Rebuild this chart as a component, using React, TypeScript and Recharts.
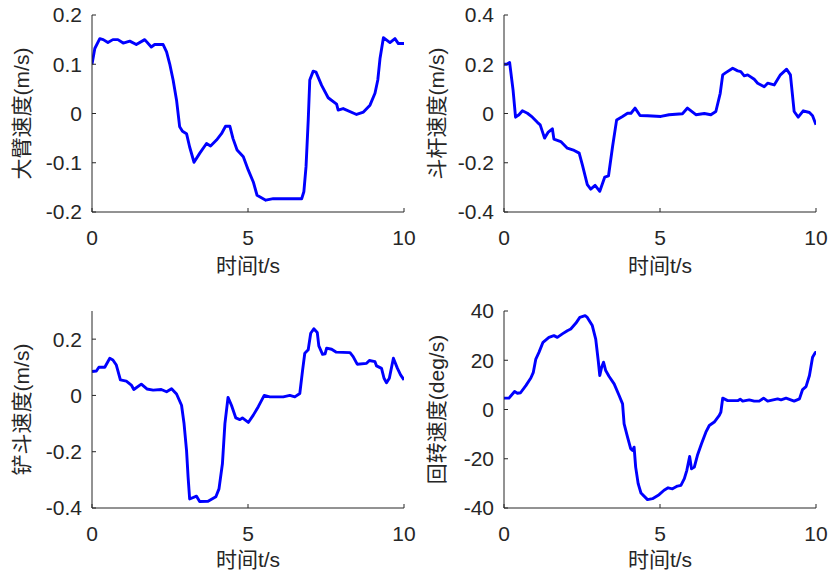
import React from 'react';
import { LineChart, Line, XAxis, YAxis } from 'recharts';

// ---- data ----
const armT = [0, 0.09, 0.25, 0.36, 0.51, 0.67, 0.83, 1.0, 1.21, 1.42, 1.69, 1.9, 2.01, 2.28, 2.39, 2.49, 2.6, 2.71, 2.81, 2.9, 3.03, 3.13, 3.27, 3.45, 3.67, 3.8, 3.99, 4.15, 4.28, 4.42, 4.52, 4.65, 4.85, 5.01, 5.17, 5.29, 5.57, 5.81, 6.13, 6.45, 6.72, 6.79, 6.86, 6.93, 6.98, 7.09, 7.18, 7.36, 7.57, 7.84, 7.89, 8.05, 8.48, 8.7, 8.91, 9.07, 9.16, 9.23, 9.34, 9.55, 9.71, 9.82, 10];
const armV = [0.1, 0.132, 0.152, 0.15, 0.144, 0.15, 0.15, 0.143, 0.147, 0.14, 0.15, 0.135, 0.14, 0.14, 0.125, 0.101, 0.068, 0.027, -0.027, -0.036, -0.041, -0.068, -0.099, -0.081, -0.061, -0.066, -0.054, -0.041, -0.026, -0.026, -0.051, -0.074, -0.088, -0.115, -0.139, -0.166, -0.176, -0.173, -0.173, -0.173, -0.173, -0.159, -0.108, -0.014, 0.068, 0.086, 0.084, 0.057, 0.032, 0.019, 0.007, 0.01, -0.002, 0.003, 0.017, 0.041, 0.068, 0.111, 0.154, 0.144, 0.152, 0.142, 0.142];

const stickT = [0, 0.09, 0.18, 0.29, 0.37, 0.48, 0.59, 0.75, 0.91, 1.07, 1.16, 1.3, 1.41, 1.55, 1.6, 1.82, 2.03, 2.25, 2.41, 2.51, 2.67, 2.78, 2.92, 3.07, 3.23, 3.35, 3.48, 3.61, 3.8, 3.96, 4.07, 4.2, 4.36, 4.6, 5.03, 5.29, 5.72, 5.88, 6.15, 6.42, 6.63, 6.79, 6.93, 7.01, 7.11, 7.33, 7.49, 7.59, 7.7, 7.81, 8.02, 8.13, 8.34, 8.45, 8.66, 8.86, 9.06, 9.18, 9.3, 9.43, 9.59, 9.79, 9.89, 10];
const stickV = [0.2, 0.2, 0.207, 0.096, -0.015, -0.005, 0.011, 0.001, -0.015, -0.036, -0.046, -0.1, -0.077, -0.062, -0.104, -0.114, -0.141, -0.15, -0.161, -0.208, -0.289, -0.307, -0.292, -0.316, -0.258, -0.253, -0.134, -0.026, -0.012, 0.001, 0.001, 0.022, -0.008, -0.009, -0.012, -0.005, -0.001, 0.022, -0.005, 0, -0.005, 0.008, 0.082, 0.157, 0.166, 0.184, 0.173, 0.17, 0.153, 0.157, 0.139, 0.123, 0.109, 0.123, 0.116, 0.157, 0.18, 0.157, 0.008, -0.015, 0.011, 0.004, -0.009, -0.046];

const bucketT = [0, 0.14, 0.22, 0.41, 0.57, 0.67, 0.78, 0.91, 1.1, 1.26, 1.34, 1.58, 1.76, 1.96, 2.22, 2.39, 2.55, 2.71, 2.87, 2.95, 3.03, 3.08, 3.13, 3.35, 3.45, 3.72, 3.97, 4.07, 4.18, 4.26, 4.36, 4.47, 4.61, 4.74, 4.82, 5.01, 5.17, 5.33, 5.52, 5.7, 6.13, 6.34, 6.5, 6.66, 6.75, 6.82, 6.93, 7.01, 7.11, 7.22, 7.27, 7.39, 7.47, 7.52, 7.68, 7.82, 8.27, 8.37, 8.5, 8.8, 8.89, 9.07, 9.12, 9.28, 9.36, 9.44, 9.53, 9.66, 9.79, 9.89, 10];
const bucketV = [0.085, 0.087, 0.1, 0.1, 0.132, 0.126, 0.108, 0.055, 0.051, 0.037, 0.021, 0.04, 0.023, 0.019, 0.021, 0.013, 0.024, 0.005, -0.035, -0.1, -0.195, -0.29, -0.368, -0.358, -0.377, -0.376, -0.36, -0.332, -0.243, -0.1, -0.007, -0.035, -0.08, -0.086, -0.08, -0.096, -0.07, -0.04, 0, -0.005, -0.005, 0, -0.005, 0.007, 0.09, 0.15, 0.162, 0.221, 0.237, 0.224, 0.176, 0.146, 0.148, 0.168, 0.164, 0.154, 0.152, 0.138, 0.111, 0.114, 0.124, 0.12, 0.105, 0.096, 0.061, 0.045, 0.061, 0.132, 0.096, 0.073, 0.055];

const swingT = [0, 0.16, 0.34, 0.43, 0.53, 0.7, 0.86, 0.94, 1.02, 1.12, 1.25, 1.44, 1.6, 1.71, 1.87, 2.03, 2.14, 2.3, 2.43, 2.6, 2.67, 2.83, 2.94, 3.02, 3.07, 3.13, 3.19, 3.26, 3.37, 3.53, 3.69, 3.8, 3.85, 3.96, 4.06, 4.12, 4.17, 4.22, 4.3, 4.39, 4.6, 4.76, 4.97, 5.13, 5.26, 5.4, 5.56, 5.67, 5.78, 5.86, 5.95, 6.01, 6.1, 6.2, 6.33, 6.47, 6.58, 6.74, 6.9, 6.95, 7.01, 7.17, 7.49, 7.57, 7.65, 7.86, 8.02, 8.18, 8.32, 8.45, 8.77, 8.88, 9.04, 9.3, 9.47, 9.57, 9.68, 9.79, 9.89, 9.98, 10];
const swingV = [4.6, 4.6, 7.3, 6.6, 6.8, 9.7, 12.8, 15.1, 20.5, 23.2, 27.3, 29.3, 30.0, 29.3, 30.7, 32.0, 32.7, 35.0, 37.4, 38.1, 37.4, 34.1, 28.6, 19.9, 13.8, 17.2, 19.2, 15.8, 13.4, 10.4, 5.7, 2.3, -5.8, -11.2, -15.9, -16.6, -15.3, -23.4, -30.1, -33.9, -36.6, -36.2, -34.6, -32.8, -31.8, -32.2, -31.1, -30.8, -28.1, -24.7, -19.1, -24.1, -23.4, -18.6, -13.9, -9.2, -6.5, -5.1, -2.4, -1.1, 4.6, 3.6, 3.6, 4.2, 3.4, 3.9, 3.4, 3.4, 4.6, 3.4, 4.3, 3.9, 4.6, 3.4, 4.3, 8.1, 9.3, 13.8, 21.2, 23.2, 23.2];

const xTicks = [0, 5, 10];
const armTicks = [-0.2, -0.1, 0, 0.1, 0.2];
const stickTicks = [-0.4, -0.2, 0, 0.2, 0.4];
const bucketTicks = [-0.4, -0.2, 0, 0.2];
const swingTicks = [-40, -20, 0, 20, 40];

const xLabel = '时间t/s';
const labels = ['大臂速度(m/s)', '斗杆速度(m/s)', '铲斗速度(m/s)', '回转速度(deg/s)'];

const zip = (t: number[], v: number[]) => t.map((x, i) => ({ t: x, v: v[i] }));

const FONT = '"Liberation Sans", Arial, "Noto Sans CJK SC", sans-serif';
const TXT = '#262626';
const FS = 21;

type PanelProps = {
  left: number; top: number; width: number; height: number;
  mTop: number; mRight: number; yW: number; xH: number;
  data: { t: number; v: number }[];
  yDomain: [number, number]; yTicks: number[]; yLabel: string;
  xLabelOffset: number; yLabelOffset: number;
};

const Panel = (p: PanelProps) => {
  const tickStyle = { fill: TXT, fontSize: FS, fontFamily: FONT };
  const axisLine = { stroke: TXT, strokeWidth: 1 };
  return (
    <div style={{ position: 'absolute', left: p.left, top: p.top }}>
      <LineChart
        width={p.width}
        height={p.height}
        data={p.data}
        margin={{ top: p.mTop, right: p.mRight, bottom: 0, left: 0 }}
      >
        <XAxis
          dataKey="t"
          type="number"
          domain={[0, 10]}
          ticks={xTicks}
          interval={0}
          height={p.xH}
          tickSize={-4}
          tickMargin={22}
          tick={tickStyle}
          axisLine={axisLine}
          tickLine={{ stroke: TXT }}
          allowDataOverflow
          label={{ value: xLabel, position: 'insideBottom', offset: p.xLabelOffset, style: { fill: TXT, fontSize: FS, fontFamily: FONT } }}
        />
        <XAxis
          xAxisId="top"
          orientation="top"
          type="number"
          domain={[0, 10]}
          ticks={xTicks}
          interval={0}
          height={0}
          tickSize={-4}
          tickFormatter={() => ''}
          axisLine={axisLine}
          tickLine={{ stroke: TXT }}
        />
        <YAxis
          type="number"
          domain={p.yDomain}
          ticks={p.yTicks}
          interval={0}
          width={p.yW}
          tickSize={-4}
          tickMargin={14}
          tick={tickStyle}
          axisLine={axisLine}
          tickLine={{ stroke: TXT }}
          allowDataOverflow
          label={{ value: p.yLabel, angle: -90, position: 'insideLeft', offset: p.yLabelOffset, style: { textAnchor: 'middle', fill: TXT, fontSize: FS, fontFamily: FONT } }}
        />
        <YAxis
          yAxisId="right"
          orientation="right"
          type="number"
          domain={p.yDomain}
          ticks={p.yTicks}
          interval={0}
          width={0}
          tickSize={-4}
          tickFormatter={() => ''}
          axisLine={axisLine}
          tickLine={{ stroke: TXT }}
        />
        <Line
          type="linear"
          dataKey="v"
          stroke="#0000ff"
          strokeWidth={2.9}
          strokeLinejoin="round"
          dot={false}
          activeDot={false}
          isAnimationActive={false}
        />
      </LineChart>
    </div>
  );
};

export default function App() {
  return (
    <div style={{ position: 'absolute', left: 0, top: 0, width: 828, height: 577, background: '#fff' }}>
      <Panel left={0} top={0} width={424} height={290} mTop={15} mRight={20} yW={92} xH={78}
        data={zip(armT, armV)} yDomain={[-0.2, 0.2]} yTicks={armTicks} yLabel={labels[0]}
        xLabelOffset={17} yLabelOffset={22} />
      <Panel left={414} top={0} width={414} height={290} mTop={15} mRight={12} yW={90} xH={78}
        data={zip(stickT, stickV)} yDomain={[-0.4, 0.4]} yTicks={stickTicks} yLabel={labels[1]}
        xLabelOffset={17} yLabelOffset={23} />
      <Panel left={0} top={290} width={424} height={287} mTop={21} mRight={20} yW={92} xH={69}
        data={zip(bucketT, bucketV)} yDomain={[-0.4, 0.3]} yTicks={bucketTicks} yLabel={labels[2]}
        xLabelOffset={10} yLabelOffset={22} />
      <Panel left={414} top={290} width={414} height={287} mTop={21} mRight={12} yW={90} xH={69}
        data={zip(swingT, swingV)} yDomain={[-40, 40]} yTicks={swingTicks} yLabel={labels[3]}
        xLabelOffset={10} yLabelOffset={23} />
    </div>
  );
}
